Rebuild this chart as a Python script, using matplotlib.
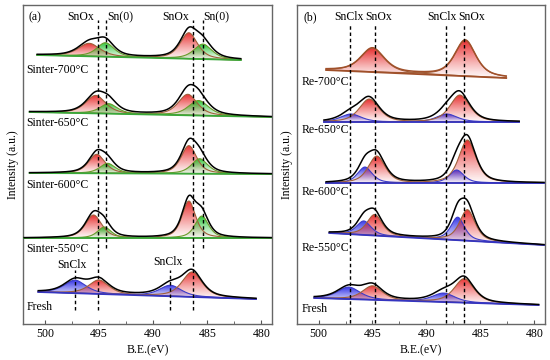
import numpy as np
import matplotlib
matplotlib.use('Agg')
import matplotlib.pyplot as plt
from matplotlib.patches import Polygon
from matplotlib.ticker import MultipleLocator

plt.rcParams['font.family'] = ['Liberation Serif', 'DejaVu Serif']

# ---- data (binding energy in eV, intensities in arbitrary stacked units) ----
# each spectrum: label, baseline (BE_left, y_left, BE_right, y_right), peaks
a_labels = ['Sinter-700\u00b0C', 'Sinter-650\u00b0C', 'Sinter-600\u00b0C', 'Sinter-550\u00b0C', 'Fresh']
a_label_y = [254, 201, 139, 75, 17]
a_base = [(500.7, 269, 481.9, 264),
          (501.4, 212, 479.1, 207),
          (501.4, 151, 479.1, 150),
          (501.9, 86, 479.1, 86),
          (500.6, 32, 480.5, 25)]
# peaks: (kind, center, height, fwhm)
a_peaks = [
    [('ox', 495.9, 13, 2.4), ('sn', 494.4, 14, 1.9), ('ox', 486.7, 26, 1.9), ('sn', 485.4, 15, 2.0)],
    [('ox', 495.3, 18, 2.2), ('sn', 494.1, 10, 1.9), ('ox', 486.8, 21, 2.1), ('sn', 485.8, 15, 2.2)],
    [('ox', 495.2, 19, 1.8), ('sn', 494.2, 10, 1.7), ('ox', 486.7, 28, 1.7), ('sn', 485.7, 15, 1.8)],
    [('ox', 495.5, 23, 1.8), ('sn', 494.5, 11, 1.5), ('ox', 486.7, 37, 1.5), ('sn', 485.5, 22, 1.5)],
    [('cl', 497.2, 13, 2.4), ('ox', 495.0, 14, 2.2), ('cl', 488.4, 11, 2.4), ('ox', 486.4, 25, 2.2)],
]

b_labels = ['Re-700\u00b0C', 'Re-650\u00b0C', 'Re-600\u00b0C', 'Re-550\u00b0C', 'Fresh']
b_label_y = [242, 194, 132, 76, 15]
b_base = [(499.3, 254, 482.6, 246),
          (499.5, 202, 481.4, 202),
          (499.3, 141, 479.1, 141),
          (499.0, 91, 479.1, 79),
          (500.4, 26, 479.6, 19)]
b_peaks = [
    [('ox', 495.0, 24, 2.6), ('ox', 486.4, 36, 2.3)],
    [('cl', 497.0, 8, 2.3), ('ox', 495.3, 23, 2.2), ('cl', 488.1, 8, 2.3), ('ox', 486.9, 27, 2.2)],
    [('cl', 495.7, 16, 1.6), ('ox', 494.6, 27, 1.9), ('cl', 487.2, 13, 1.6), ('ox', 486.2, 43, 1.9)],
    [('cl', 495.8, 14, 1.6), ('ox', 494.8, 21, 1.7), ('cl', 487.1, 23, 1.5), ('ox', 486.2, 31, 1.7)],
    [('cl', 497.2, 12, 2.5), ('ox', 495.0, 14, 2.2), ('cl', 488.4, 9, 2.5), ('ox', 486.5, 24, 2.2)],
]

# top labels and reference lines: (text, BE)
a_top = [('SnOx', 496.7), ('Sn(0)', 493.0), ('SnOx', 487.9), ('Sn(0)', 484.2)]
a_lines = [(495.05, 14, 304), (494.35, 76, 304), (486.35, 14, 304), (485.4, 76, 304),
           (497.2, 14, 54), (488.4, 14, 54)]
a_cl_text = [('SnClx', 497.5, 59), ('SnClx', 488.6, 62)]
b_top = [('SnClx', 497.2), ('SnOx', 494.4), ('SnClx', 488.6), ('SnOx', 485.8)]
b_lines = [(497.06, 1, 299), (494.77, 1, 299), (488.2, 1, 299), (486.5, 1, 299)]

fill_col = {'ox': (0.9, 0.12, 0.12), 'sn': (0.1, 0.75, 0.15), 'cl': (0.15, 0.15, 0.9)}
edge_col = {'ox': '#a0603a', 'sn': '#6b9a2a', 'cl': '#3c3cc8'}


def pv(x, c, h, w, eta=0.6):
    g = np.exp(-4 * np.log(2) * (x - c) ** 2 / w ** 2)
    l = 1 / (1 + 4 * (x - c) ** 2 / w ** 2)
    return h * ((1 - eta) * g + eta * l)


def draw_spectrum(ax, base, peaks, base_col, env_col):
    xl, yl, xr, yr = base
    x = np.linspace(xr, xl, 800)
    b = yr + (yl - yr) * (x - xr) / (xl - xr)
    total = np.zeros_like(x)
    for kind, c, h, w in peaks:
        yp = pv(x, c, h, w)
        total += yp
        top = b + yp
        verts = np.concatenate([np.column_stack([x, top]), np.column_stack([x[::-1], b[::-1]])])
        patch = Polygon(verts, closed=True, facecolor='none', edgecolor='none')
        ax.add_patch(patch)
        grad = np.zeros((256, 1, 4))
        grad[:, 0, :3] = fill_col[kind]
        grad[:, 0, 3] = 0.03 + 0.9 * np.linspace(0, 1, 256) ** 1.2
        img = ax.imshow(grad, extent=[x.min(), x.max(), b.min(), top.max()],
                        origin='lower', aspect='auto', zorder=2, interpolation='bilinear')
        img.set_clip_path(patch)
        ax.plot(x, top, color=edge_col[kind], lw=0.8, zorder=3)
    ax.plot(x, b, color=base_col, lw=1.3, zorder=3)
    ax.plot(x, b + total, color=env_col, lw=1.1, zorder=4)


fig = plt.figure(figsize=(5.5, 3.6), dpi=100)
ax1 = fig.add_axes([0.042, 0.1, 0.453, 0.886])
ax2 = fig.add_axes([0.54, 0.1, 0.451, 0.886])

a_base_col = ['#3aa83a', '#3aa83a', '#3aa83a', '#3aa83a', '#3535c0']
a_env = ['black'] * 5
b_base_col = ['#a0502a', '#3535c0', '#3535c0', '#3535c0', '#3535c0']
b_env = ['#a0502a', 'black', 'black', 'black', 'black']

for i in range(5):
    draw_spectrum(ax1, a_base[i], a_peaks[i], a_base_col[i], a_env[i])
    draw_spectrum(ax2, b_base[i], b_peaks[i], b_base_col[i], b_env[i])

fs = 8.5
for ax, labels, ly, lx in [(ax1, a_labels, a_label_y, 501.7), (ax2, b_labels, b_label_y, 501.6)]:
    for lab, y in zip(labels, ly):
        ax.text(lx, y, lab, fontsize=fs, ha='left', va='center', zorder=6)

for txt, be in a_top:
    ax1.text(be, 307, txt, fontsize=fs, ha='center', va='center')
for txt, be in b_top:
    ax2.text(be, 307, txt, fontsize=fs, ha='center', va='center')
ax1.text(501.5, 307, '(a)', fontsize=fs, ha='left', va='center')
ax2.text(501.4, 307, '(b)', fontsize=fs, ha='left', va='center')
for txt, be, y in a_cl_text:
    ax1.text(be, y, txt, fontsize=fs, ha='center', va='center')

for ax, lines in [(ax1, a_lines), (ax2, b_lines)]:
    for be, y0, y1 in lines:
        ax.plot([be, be], [y0, y1], color='black', ls=(0, (2.5, 2)), lw=1.0, zorder=5)

for ax in [ax1, ax2]:
    ax.set_xlim(502, 479)
    ax.set_ylim(0, 319)
    ax.set_yticks([])
    ax.xaxis.set_major_locator(MultipleLocator(5))
    ax.xaxis.set_minor_locator(MultipleLocator(2.5))
    ax.tick_params(axis='x', which='major', direction='in', length=3, labelsize=fs, color='#555555', pad=3)
    ax.tick_params(axis='x', which='minor', direction='in', length=2, color='#555555')
    for s in ax.spines.values():
        s.set_color('#666666')
        s.set_linewidth(1.0)
    ax.set_xlabel('B.E.(eV)', fontsize=fs, labelpad=3)
    ax.set_ylabel('Intensity (a.u.)', fontsize=fs, labelpad=3)

fig.savefig('out.png', dpi=100)
